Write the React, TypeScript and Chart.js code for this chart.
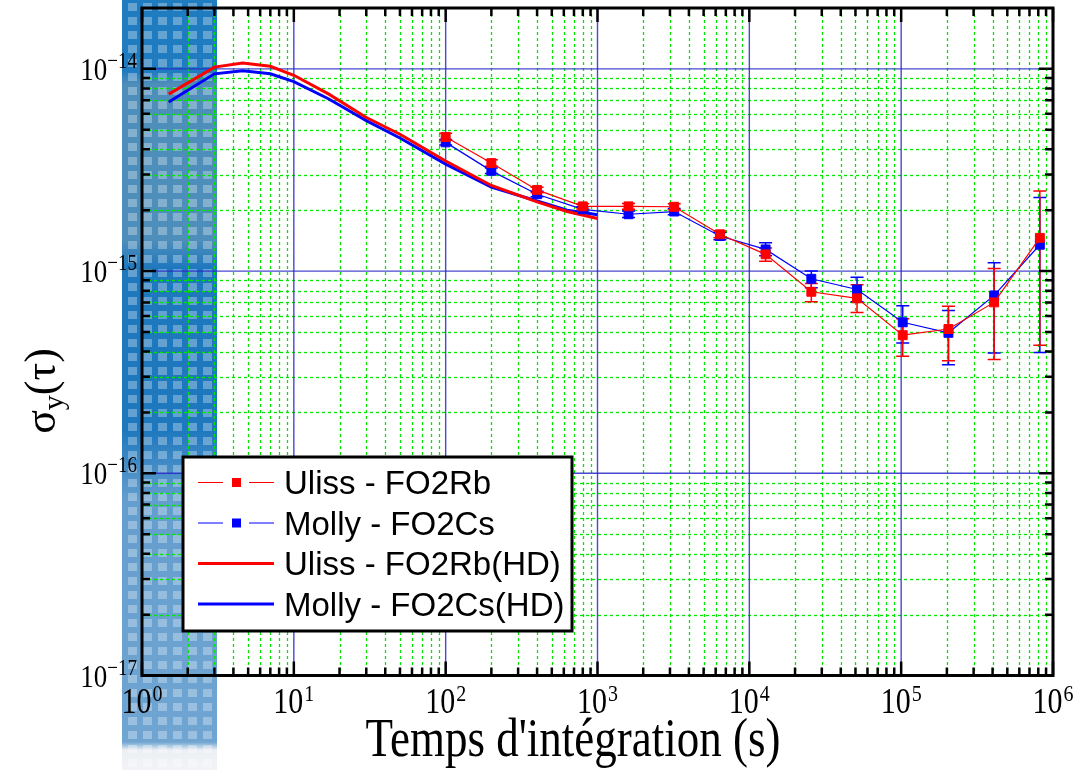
import React, { useEffect, useRef } from "react";
import { Chart, registerables } from "chart.js";

Chart.register(...registerables);

// ---------- data ----------
const TAU = [100, 200, 400, 800, 1600, 3200, 6400, 12800, 25600, 51200, 102400, 204800, 409600, 819200];

const ULISS = [4.6e-15, 3.42e-15, 2.52e-15, 2.09e-15, 2.09e-15, 2.08e-15, 1.52e-15, 1.21e-15, 7.9e-16, 7.33e-16, 4.82e-16, 5.17e-16, 7.0e-16, 1.46e-15];
const ULISS_LO = [4.45e-15, 3.3e-15, 2.44e-15, 2.03e-15, 2.02e-15, 2.01e-15, 1.46e-15, 1.12e-15, 7.05e-16, 6.24e-16, 3.79e-16, 3.6e-16, 3.65e-16, 4.3e-16];
const ULISS_HI = [4.8e-15, 3.55e-15, 2.6e-15, 2.15e-15, 2.16e-15, 2.15e-15, 1.58e-15, 1.3e-15, 8.67e-16, 8.55e-16, 5.81e-16, 6.7e-16, 1.03e-15, 2.49e-15];

const MOLLY = [4.33e-15, 3.13e-15, 2.4e-15, 2.02e-15, 1.91e-15, 1.97e-15, 1.49e-15, 1.28e-15, 9.16e-16, 8.11e-16, 5.58e-16, 4.95e-16, 7.58e-16, 1.35e-15];
const MOLLY_LO = [4.2e-15, 3.04e-15, 2.33e-15, 1.96e-15, 1.84e-15, 1.9e-15, 1.43e-15, 1.19e-15, 8.28e-16, 7.06e-16, 4.41e-16, 3.44e-16, 3.94e-16, 3.96e-16];
const MOLLY_HI = [4.47e-15, 3.23e-15, 2.48e-15, 2.08e-15, 1.98e-15, 2.04e-15, 1.55e-15, 1.38e-15, 1.0e-15, 9.33e-16, 6.73e-16, 6.38e-16, 1.1e-15, 2.31e-15];

const TAU_HD = [1.5, 3, 4.6, 7, 10, 17, 30, 50, 100, 200, 400, 630, 1000];
const ULISS_HD = [7.5e-15, 1.02e-14, 1.07e-14, 1.03e-14, 9.3e-15, 7.5e-15, 5.75e-15, 4.75e-15, 3.5e-15, 2.65e-15, 2.2e-15, 1.97e-15, 1.82e-15];
const MOLLY_HD = [6.85e-15, 9.45e-15, 9.8e-15, 9.45e-15, 8.65e-15, 7.1e-15, 5.55e-15, 4.55e-15, 3.38e-15, 2.6e-15, 2.22e-15, 2.0e-15, 1.9e-15];

const X_EXPONENTS = [0, 1, 2, 3, 4, 5, 6];
const Y_EXPONENTS = [-17, -16, -15, -14];
const X_MIN = 1;
const X_MAX = 1e6;
const Y_MIN = 1e-17;
const Y_MAX = 2e-14;

const SERIES_LABELS = ["Uliss - FO2Rb", "Molly - FO2Cs", "Uliss - FO2Rb(HD)", "Molly - FO2Cs(HD)"];
const X_TITLE = "Temps d'intégration (s)";

// ---------- helpers ----------
const SERIF = '"Liberation Serif", "Times New Roman", serif';
const SANS = '"Liberation Sans", Arial, sans-serif';
const STRETCH = 1.2;

function minorValues(min: number, max: number): number[] {
  const out: number[] = [];
  const e0 = Math.floor(Math.log10(min));
  const e1 = Math.ceil(Math.log10(max));
  for (let e = e0; e <= e1; e++) {
    for (let m = 2; m <= 9; m++) {
      const v = m * Math.pow(10, e);
      if (v > min * 1.0001 && v < max * 0.9999) out.push(v);
    }
  }
  return out;
}
const expText = (e: number) => (e < 0 ? "\u2212" + Math.abs(e) : String(e));

function tallText(ctx: CanvasRenderingContext2D, text: string, x: number, y: number, font: string, sy = STRETCH) {
  ctx.save();
  ctx.font = font;
  ctx.translate(x, y);
  ctx.scale(1, sy);
  ctx.fillText(text, 0, 0);
  ctx.restore();
}
function textW(ctx: CanvasRenderingContext2D, text: string, font: string) {
  ctx.font = font;
  return ctx.measureText(text).width;
}

const axesPlugin = {
  id: "customAxes",
  beforeDatasetsDraw(chart: any) {
    const { ctx, chartArea: a } = chart;
    const xs = chart.scales.x;
    const ys = chart.scales.y;
    ctx.save();
    ctx.beginPath();
    ctx.rect(a.left, a.top, a.right - a.left, a.bottom - a.top);
    ctx.clip();
    // minor grid
    ctx.strokeStyle = "#00e600";
    ctx.lineWidth = 1.3;
    ctx.setLineDash([3, 3]);
    for (const v of minorValues(X_MIN, X_MAX)) {
      const p = Math.round(xs.getPixelForValue(v)) + 0.5;
      ctx.beginPath();
      ctx.moveTo(p, a.top);
      ctx.lineTo(p, a.bottom);
      ctx.stroke();
    }
    for (const v of minorValues(Y_MIN, Y_MAX)) {
      const p = Math.round(ys.getPixelForValue(v)) + 0.5;
      ctx.beginPath();
      ctx.moveTo(a.left, p);
      ctx.lineTo(a.right, p);
      ctx.stroke();
    }
    // major grid
    ctx.setLineDash([]);
    ctx.strokeStyle = "rgba(40,40,200,0.85)";
    ctx.lineWidth = 1.4;
    for (const e of X_EXPONENTS) {
      const p = xs.getPixelForValue(Math.pow(10, e));
      ctx.beginPath();
      ctx.moveTo(p, a.top);
      ctx.lineTo(p, a.bottom);
      ctx.stroke();
    }
    for (const e of Y_EXPONENTS) {
      const p = ys.getPixelForValue(Math.pow(10, e));
      ctx.beginPath();
      ctx.moveTo(a.left, p);
      ctx.lineTo(a.right, p);
      ctx.stroke();
    }
    // error bars
    const bars = [
      { lo: MOLLY_LO, hi: MOLLY_HI, color: "#0000ff" },
      { lo: ULISS_LO, hi: ULISS_HI, color: "#ff0000" },
    ];
    ctx.lineWidth = 1.5;
    for (const b of bars) {
      ctx.strokeStyle = b.color;
      TAU.forEach((t, i) => {
        const px = xs.getPixelForValue(t);
        const pl = ys.getPixelForValue(b.lo[i]);
        const ph = ys.getPixelForValue(b.hi[i]);
        ctx.beginPath();
        ctx.moveTo(px, pl);
        ctx.lineTo(px, ph);
        ctx.moveTo(px - 6.5, pl);
        ctx.lineTo(px + 6.5, pl);
        ctx.moveTo(px - 6.5, ph);
        ctx.lineTo(px + 6.5, ph);
        ctx.stroke();
      });
    }
    ctx.restore();
  },
  afterDatasetsDraw(chart: any) {
    const { ctx, chartArea: a } = chart;
    const xs = chart.scales.x;
    const ys = chart.scales.y;
    ctx.save();
    ctx.strokeStyle = "#000";
    ctx.lineWidth = 2.5;
    const majLen = 14;
    const minLen = 8;
    const xTicks = [
      ...X_EXPONENTS.map((e) => ({ v: Math.pow(10, e), len: majLen })),
      ...minorValues(X_MIN, X_MAX).map((v) => ({ v, len: minLen })),
    ];
    const yTicks = [
      ...Y_EXPONENTS.map((e) => ({ v: Math.pow(10, e), len: majLen })),
      ...minorValues(Y_MIN, Y_MAX).map((v) => ({ v, len: minLen })),
    ];
    ctx.beginPath();
    for (const t of xTicks) {
      const p = xs.getPixelForValue(t.v);
      ctx.moveTo(p, a.bottom);
      ctx.lineTo(p, a.bottom - t.len);
      ctx.moveTo(p, a.top);
      ctx.lineTo(p, a.top + t.len);
    }
    for (const t of yTicks) {
      const p = ys.getPixelForValue(t.v);
      ctx.moveTo(a.left, p);
      ctx.lineTo(a.left + t.len, p);
      ctx.moveTo(a.right, p);
      ctx.lineTo(a.right - t.len, p);
    }
    ctx.stroke();
    ctx.lineWidth = 3;
    ctx.strokeRect(a.left, a.top, a.right - a.left, a.bottom - a.top);
    ctx.restore();
  },
  afterDraw(chart: any) {
    const { ctx, chartArea: a } = chart;
    const xs = chart.scales.x;
    const ys = chart.scales.y;
    ctx.save();
    ctx.fillStyle = "#000";
    ctx.textAlign = "left";
    ctx.textBaseline = "alphabetic";
    // x tick labels
    const xf = `30px ${SERIF}`;
    const xef = `20px ${SERIF}`;
    for (const e of X_EXPONENTS) {
      const p = xs.getPixelForValue(Math.pow(10, e));
      const w10 = textW(ctx, "10", xf);
      const we = textW(ctx, expText(e), xef);
      const start = p - (w10 + 1 + we) / 2;
      tallText(ctx, "10", start, a.bottom + 37, xf);
      tallText(ctx, expText(e), start + w10 + 1, a.bottom + 25, xef);
    }
    // y tick labels
    const yf = `27px ${SERIF}`;
    const yef = `19px ${SERIF}`;
    for (const e of Y_EXPONENTS) {
      const p = ys.getPixelForValue(Math.pow(10, e));
      const w10 = textW(ctx, "10", yf);
      const we = textW(ctx, expText(e), yef);
      const start = a.left - 5 - (w10 + we);
      tallText(ctx, "10", start, p + 11, yf);
      tallText(ctx, expText(e), start + w10, p - 1, yef);
    }
    // x title
    ctx.textAlign = "center";
    tallText(ctx, X_TITLE, 573, 756, `45px ${SERIF}`);
    ctx.textAlign = "left";
    // y title: sigma_y(tau)
    ctx.save();
    ctx.translate(55, 391);
    ctx.rotate(-Math.PI / 2);
    const bf = `44px ${SERIF}`;
    const sf = `30px ${SERIF}`;
    const ws = textW(ctx, "\u03c3", bf);
    const wp = textW(ctx, "(\u03c4)", bf);
    const wy = textW(ctx, "y", sf);
    const total = ws + wy + wp;
    const x0 = -total / 2;
    ctx.font = bf;
    ctx.fillText("\u03c3", x0, 0);
    ctx.font = sf;
    ctx.fillText("y", x0 + ws, 8);
    ctx.font = bf;
    ctx.fillText("(\u03c4)", x0 + ws + wy, 0);
    ctx.restore();

    // legend
    const L = { left: 183, top: 457, right: 572, bottom: 631 };
    ctx.fillStyle = "#fff";
    ctx.fillRect(L.left, L.top, L.right - L.left, L.bottom - L.top);
    ctx.strokeStyle = "#000";
    ctx.lineWidth = 3;
    ctx.strokeRect(L.left, L.top, L.right - L.left, L.bottom - L.top);
    const rows = [482.5, 523, 563.5, 604];
    const colors = ["#ff0000", "#0000ff", "#ff0000", "#0000ff"];
    rows.forEach((ry, i) => {
      ctx.strokeStyle = colors[i];
      ctx.fillStyle = colors[i];
      if (i < 2) {
        ctx.lineWidth = 1.2;
        ctx.beginPath();
        ctx.moveTo(198, ry);
        ctx.lineTo(223, ry);
        ctx.moveTo(249, ry);
        ctx.lineTo(274, ry);
        ctx.stroke();
        ctx.fillRect(232, ry - 4.5, 9, 9);
      } else {
        ctx.lineWidth = 3;
        ctx.beginPath();
        ctx.moveTo(198, ry);
        ctx.lineTo(274, ry);
        ctx.stroke();
      }
      ctx.fillStyle = "#000";
      ctx.font = `33px ${SANS}`;
      ctx.fillText(SERIES_LABELS[i], 284, ry + 11.5);
    });
    ctx.restore();
  },
};

const tile =
  "<svg xmlns='http://www.w3.org/2000/svg' width='15' height='14'><rect x='3' y='3' width='9' height='8' fill='white' fill-opacity='0.3'/></svg>";
const stripBg =
  `url("data:image/svg+xml;utf8,${encodeURIComponent(tile)}"), ` +
  "linear-gradient(to bottom, rgb(32,124,192) 0px, rgb(32,124,192) 72px, rgb(78,142,186) 84px, rgb(78,142,186) 240px, rgb(30,120,190) 268px, rgb(30,120,190) 430px, rgb(100,158,206) 500px, rgb(112,165,210) 742px, rgb(236,239,243) 750px, rgb(242,243,246) 770px)";

export default function App() {
  const ref = useRef<HTMLCanvasElement | null>(null);
  useEffect(() => {
    if (!ref.current) return;
    const chart = new Chart(ref.current, {
      type: "line",
      data: {
        datasets: [
          {
            label: SERIES_LABELS[0],
            data: TAU.map((t, i) => ({ x: t, y: ULISS[i] })),
            borderColor: "#ff0000",
            backgroundColor: "#ff0000",
            borderWidth: 1.2,
            pointStyle: "rect",
            pointRadius: 6.3,
            pointBorderWidth: 1,
            pointBackgroundColor: "#ff0000",
            pointBorderColor: "#ff0000",
            fill: false,
            tension: 0,
          },
          {
            label: SERIES_LABELS[1],
            data: TAU.map((t, i) => ({ x: t, y: MOLLY[i] })),
            borderColor: "#0000ff",
            backgroundColor: "#0000ff",
            borderWidth: 1.2,
            pointStyle: "rect",
            pointRadius: 6.3,
            pointBorderWidth: 1,
            pointBackgroundColor: "#0000ff",
            pointBorderColor: "#0000ff",
            fill: false,
            tension: 0,
          },
          {
            label: SERIES_LABELS[2],
            data: TAU_HD.map((t, i) => ({ x: t, y: ULISS_HD[i] })),
            borderColor: "#ff0000",
            borderWidth: 3,
            pointRadius: 0,
            fill: false,
            tension: 0,
          },
          {
            label: SERIES_LABELS[3],
            data: TAU_HD.map((t, i) => ({ x: t, y: MOLLY_HD[i] })),
            borderColor: "#0000ff",
            borderWidth: 3,
            pointRadius: 0,
            fill: false,
            tension: 0,
          },
        ],
      },
      options: {
        responsive: false,
        maintainAspectRatio: false,
        animation: false,
        devicePixelRatio: 1,
        layout: { padding: { left: 142, right: 20, top: 8, bottom: 94.5 } },
        scales: {
          x: { type: "logarithmic", min: X_MIN, max: X_MAX, display: false },
          y: { type: "logarithmic", min: Y_MIN, max: Y_MAX, display: false },
        },
        plugins: { legend: { display: false }, tooltip: { enabled: false } },
        events: [],
      },
      plugins: [axesPlugin],
    });
    return () => chart.destroy();
  }, []);

  return (
    <div style={{ position: "fixed", left: 0, top: 0, width: 1073, height: 770, background: "#fff", overflow: "hidden" }}>
      <div
        style={{
          position: "absolute",
          left: 122,
          top: 0,
          width: 95,
          height: 770,
          backgroundImage: stripBg,
          backgroundPosition: "3px 0px, 0 0",
          backgroundRepeat: "repeat, no-repeat",
        }}
      />
      <canvas ref={ref} width={1073} height={770} style={{ position: "absolute", left: 0, top: 0, display: "block" }} />
    </div>
  );
}
